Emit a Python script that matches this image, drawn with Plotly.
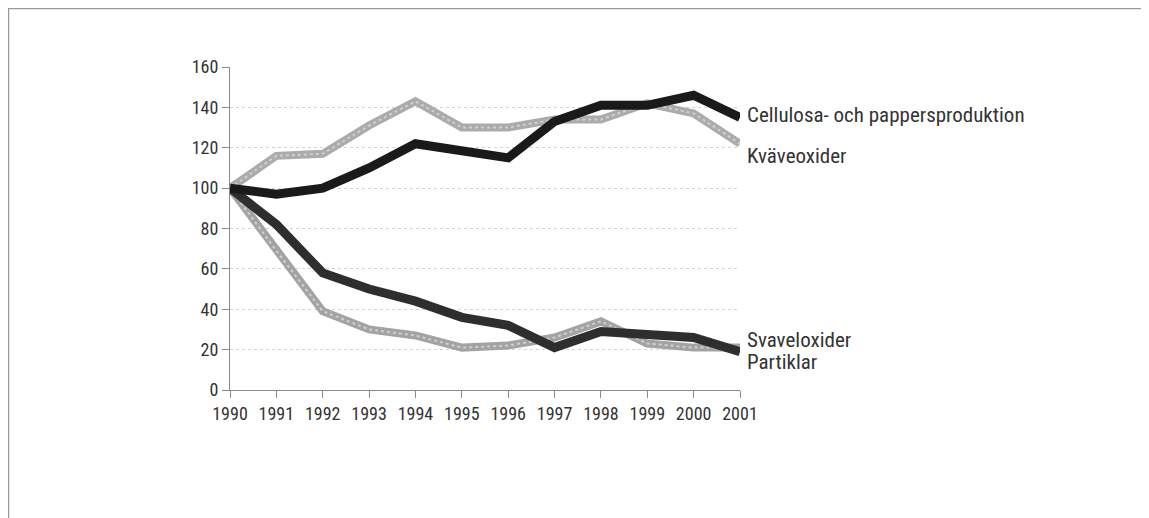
import plotly.graph_objects as go

years = list(range(1990, 2002))
cellulosa = [100, 97, 100, 110, 122, 119, 115, 133, 141, 141, 146, 135]
kvaveoxider = [100, 116, 117, 131, 143, 130, 130, 134, 134, 142, 137, 122]
svaveloxider = [100, 69, 39, 30, 27, 21, 22, 26, 34, 23, 21, 21]
partiklar = [100, 82, 58, 50, 44, 36, 32, 21, 29, 27, 26, 19]

series = [
    ("Kväveoxider", kvaveoxider, "#ababab", True, 8),
    ("Svaveloxider", svaveloxider, "#a3a3a3", True, 8),
    ("Partiklar", partiklar, "#2e2e2e", False, 9),
    ("Cellulosa- och pappersproduktion", cellulosa, "#1a1a1a", False, 9),
]
label_y = {"Cellulosa- och pappersproduktion": 136, "Kväveoxider": 116,
           "Svaveloxider": 25, "Partiklar": 14}

FONT = "Liberation Sans Narrow, Roboto Condensed, Arial Narrow, Roboto, sans-serif"

fig = go.Figure()
for name, vals, col, textured, w in series:
    fig.add_trace(go.Scatter(x=years, y=vals, mode="lines", name=name,
                             line=dict(color=col, width=w), showlegend=False,
                             cliponaxis=False))
    if textured:
        fig.add_trace(go.Scatter(x=years, y=vals, mode="lines", showlegend=False,
                                 hoverinfo="skip",
                                 line=dict(color="#cfcfcf", width=2, dash="dot"),
                                 cliponaxis=False))

for name, yv in label_y.items():
    fig.add_annotation(x=2001, y=yv, text=name, showarrow=False, xanchor="left",
                       yanchor="middle", xshift=5,
                       font=dict(family=FONT, size=21, color="#333333"))

# page has an 8px body margin; figure placed accordingly
W, H = 1141, 510
L, R, T, B = 222, 409, 59, 128
pw, ph = W - L - R, H - T - B

fig.update_layout(
    width=W, height=H,
    margin=dict(l=L, r=R, t=T, b=B),
    paper_bgcolor="white", plot_bgcolor="white",
    font=dict(family=FONT, size=18, color="#333333"),
    xaxis=dict(range=[1990, 2001], tickmode="array", tickvals=years,
               ticktext=[str(y) for y in years], showgrid=False,
               showline=True, linecolor="#8a8a8a", linewidth=1,
               ticks="outside", ticklen=7, tickcolor="#8a8a8a",
               tickfont=dict(family=FONT, size=18, color="#333333"), zeroline=False),
    yaxis=dict(range=[0, 160], tickmode="array", tickvals=[0, 20, 40, 60, 80, 100, 120, 140, 160],
               showgrid=True, gridcolor="#d4d4d4", griddash="dot", gridwidth=1,
               showline=True, linecolor="#8a8a8a", linewidth=1,
               ticks="outside", ticklen=7, tickcolor="#8a8a8a",
               tickfont=dict(family=FONT, size=18, color="#333333"), zeroline=False),
    shapes=[dict(type="rect", xref="paper", yref="paper",
                 x0=(0.5 - L) / pw, x1=(W + 20 - L) / pw,
                 y0=(-20 - B) / ph, y1=(ph + T - 0.5) / ph,
                 line=dict(color="#999999", width=1.5), layer="below")],
)

fig.write_html("out.html")
